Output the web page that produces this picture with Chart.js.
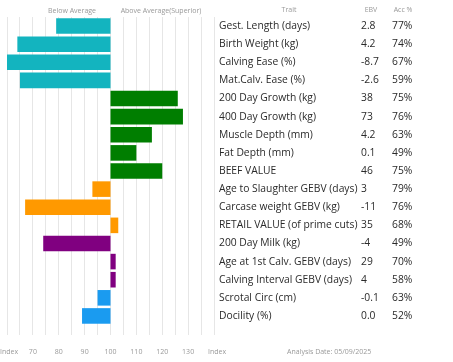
<!DOCTYPE html>
<html lang="en">
<head>
<meta charset="UTF-8">
<title>EBV Chart</title>
<script src="https://cdn.jsdelivr.net/npm/chart.js"></script>
<style>
  html, body { margin: 0; padding: 0; background: #fff; }
  #wrap { position: relative; width: 453px; height: 362px; }
</style>
</head>
<body>
<div id="wrap"><canvas id="chart"></canvas></div>
<script>
var traits = ['Gest. Length (days)', 'Birth Weight (kg)', 'Calving Ease (%)', 'Mat.Calv. Ease (%)',
  '200 Day Growth (kg)', '400 Day Growth (kg)', 'Muscle Depth (mm)', 'Fat Depth (mm)', 'BEEF VALUE',
  'Age to Slaughter GEBV (days)', 'Carcase weight GEBV (kg)', 'RETAIL VALUE (of prime cuts)',
  '200 Day Milk (kg)', 'Age at 1st Calv. GEBV (days)', 'Calving Interval GEBV (days)',
  'Scrotal Circ (cm)', 'Docility (%)'];
var ebv = ['2.8', '4.2', '-8.7', '-2.6', '38', '73', '4.2', '0.1', '46', '3', '-11', '35', '-4', '29', '4', '-0.1', '0.0'];
var acc = ['77%', '74%', '67%', '59%', '75%', '76%', '63%', '49%', '75%', '79%', '76%', '68%', '49%', '70%', '58%', '63%', '52%'];
var indexValues = [79, 64, 60, 65, 126, 128, 116, 110, 120, 93, 67, 103, 74, 102, 102, 95, 89];
var groupColors = ['#13b4bf', '#007e00', '#ff9900', '#800080', '#1a9bf0'];
var traitGroup = [0, 0, 0, 0, 1, 1, 1, 1, 1, 2, 2, 2, 3, 3, 3, 4, 4];
var tickLabels = { 70: '70', 80: '80', 90: '90', 100: '100', 110: '110', 120: '120', 130: '130' };
var endLabel = 'Index';

var FONT = '"Open Sans", sans-serif';

// table on the right + headers
var tablePlugin = {
  id: 'table',
  afterDraw: function (chart) {
    var ctx = chart.ctx;
    var y = chart.scales.y;
    var x = chart.scales.x;
    ctx.save();
    ctx.textBaseline = 'middle';
    ctx.fillStyle = '#999';
    ctx.font = '7px ' + FONT;
    ctx.textAlign = 'center';
    ctx.fillText('Below Average', 72, 11);
    ctx.fillText('Above Average(Superior)', 161, 11);
    ctx.fillText('Trait', 289, 10);
    ctx.fillText('EBV', 371, 10);
    ctx.fillText('Acc %', 403, 10);
    // "Index" at both ends of the axis
    var ly = x.top + 27;
    ctx.textAlign = 'left';
    ctx.fillText(endLabel, 0, ly);
    ctx.fillText(endLabel, x.getPixelForValue(140) - 6, ly);
    ctx.fillText('Analysis Date: 05/09/2025', 287, ly);

    ctx.fillStyle = '#2a2a2a';
    ctx.font = '10.3px ' + FONT;
    for (var i = 0; i < traits.length; i++) {
      var py = y.getPixelForValue(i);
      ctx.fillText(traits[i], 219, py);
      ctx.fillText(ebv[i], 361, py);
      ctx.fillText(acc[i], 392, py);
    }
    ctx.restore();
  }
};

new Chart(document.getElementById('chart'), {
  type: 'bar',
  data: {
    labels: traits,
    datasets: [{
      data: indexValues.map(function (v) { return [100, v]; }),
      backgroundColor: traitGroup.map(function (g) { return groupColors[g]; }),
      borderWidth: 0,
      borderSkipped: false,
      barPercentage: 0.86,
      categoryPercentage: 1
    }]
  },
  plugins: [tablePlugin],
  options: {
    indexAxis: 'y',
    responsive: true,
    maintainAspectRatio: false,
    animation: false,
    layout: { padding: { left: 7, right: 239, top: 17, bottom: 0 } },
    plugins: { legend: { display: false }, tooltip: { enabled: false } },
    scales: {
      x: {
        min: 60,
        max: 140,
        afterFit: function (scale) {
          scale.paddingLeft = 0;
          scale.paddingRight = 0;
          scale.height = 37;
        },
        ticks: {
          stepSize: 5,
          autoSkip: false,
          maxRotation: 0,
          color: '#999',
          font: { family: FONT, size: 7 },
          padding: 13,
          callback: function (v) { return tickLabels[v] || ''; }
        },
        grid: { color: '#e6e6e6', tickLength: 10, drawOnChartArea: true },
        border: { display: false }
      },
      y: {
        display: false,
        grid: { display: false }
      }
    }
  }
});
</script>
</body>
</html>
